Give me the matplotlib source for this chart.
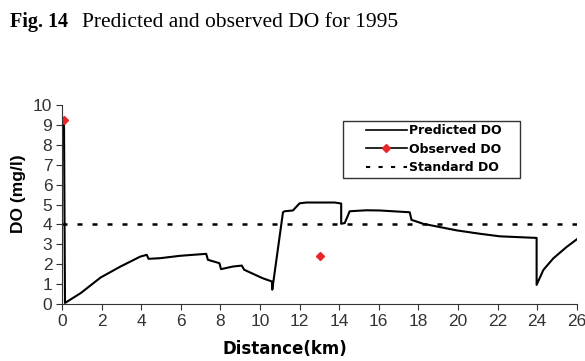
import matplotlib.pyplot as plt
from matplotlib.lines import Line2D
from matplotlib.patches import Rectangle

# predicted DO along the river (km, mg/l)
pred_x = [0.1, 0.15, 0.95, 1.95, 2.95, 3.95, 4.28, 4.37, 4.95, 5.95, 7.28, 7.37, 7.95,
          8.03, 8.62, 9.08, 9.2, 10.12, 10.6, 10.62, 11.16, 11.24, 11.66, 12.0, 12.34,
          13.77, 14.1, 14.1, 14.28, 14.53, 15.37, 16.05, 17.56, 17.65, 18.24, 18.91,
          19.93, 21.1, 22.12, 23.97, 23.97, 24.31, 24.81, 25.49, 26.0]
pred_y = [9.25, 0.05, 0.55, 1.33, 1.88, 2.38, 2.47, 2.27, 2.3, 2.42, 2.52, 2.22, 2.05,
          1.75, 1.88, 1.93, 1.72, 1.3, 1.13, 0.72, 4.61, 4.66, 4.7, 5.06, 5.1,
          5.1, 5.05, 4.03, 4.07, 4.66, 4.71, 4.7, 4.61, 4.23, 4.03, 3.9,
          3.7, 3.53, 3.4, 3.32, 0.96, 1.71, 2.29, 2.87, 3.25]

# observed DO
obs_x = [0.1, 13.05]
obs_y = [9.25, 2.42]

# standard DO
std_x = [0, 26]
std_y = [4, 4]

plt.rcParams['font.family'] = 'DejaVu Sans'
narrow_font = ['Liberation Sans Narrow', 'Liberation Sans']

fig = plt.figure(figsize=(5.85, 3.61), dpi=100)
ax = fig.add_axes([0.106, 0.158, 0.88, 0.551])

ax.plot(pred_x, pred_y, color='black', linewidth=1.5)
ax.plot(std_x, std_y, color='black', linewidth=1.8, linestyle=(0, (2, 4)))
ax.plot(obs_x, obs_y, linestyle='none', marker='D', color='#e8262a', markersize=4.5)

ax.set_xlim(0, 26)
ax.set_ylim(0, 10)
ax.set_xticks(range(0, 27, 2))
ax.set_yticks(range(0, 11))
ax.spines['top'].set_visible(False)
ax.spines['right'].set_visible(False)
ax.spines['left'].set_color('#333333')
ax.spines['bottom'].set_color('#333333')
ax.tick_params(direction='out', length=4, colors='#333333', pad=3)
for lab in ax.get_xticklabels() + ax.get_yticklabels():
    lab.set_family(narrow_font)
    lab.set_fontsize(12.5)

ax.text(0.433, -0.225, 'Distance(km)', transform=ax.transAxes, fontsize=12,
        fontweight='bold', ha='center', va='center')
ax.text(-0.084, 0.556, 'DO (mg/l)', transform=ax.transAxes, fontsize=12.5,
        family=narrow_font, fontweight='bold', ha='center', va='center',
        rotation=90)

# legend box drawn separately so it can be wider than its content
ax.add_patch(Rectangle((0.5456, 0.633), 0.344, 0.287, transform=ax.transAxes,
                       facecolor='white', edgecolor='#333333', linewidth=1.0,
                       zorder=4))
handles = [Line2D([], [], color='black', linewidth=1.2),
           Line2D([], [], color='black', linewidth=1.2, marker='D',
                  markerfacecolor='#e8262a', markeredgecolor='#e8262a', markersize=4),
           Line2D([], [], color='black', linewidth=1.5, linestyle=(0, (2, 4)))]
leg = ax.legend(handles, ['Predicted DO', 'Observed DO', 'Standard DO'],
                loc='upper left', bbox_to_anchor=(0.59, 0.905),
                prop={'weight': 'bold', 'size': 9}, frameon=False,
                handlelength=3.3, handletextpad=0.15,
                borderpad=0, labelspacing=0.45, borderaxespad=0)
leg.set_zorder(5)

fig.text(0.017, 0.938, 'Fig. 14', fontsize=14.5, fontweight='bold',
         family='Liberation Serif', va='center')
fig.text(0.14, 0.938, 'Predicted and observed DO for 1995', fontsize=15.5,
         family='Liberation Serif', va='center')

fig.savefig('out.png', dpi=100)
